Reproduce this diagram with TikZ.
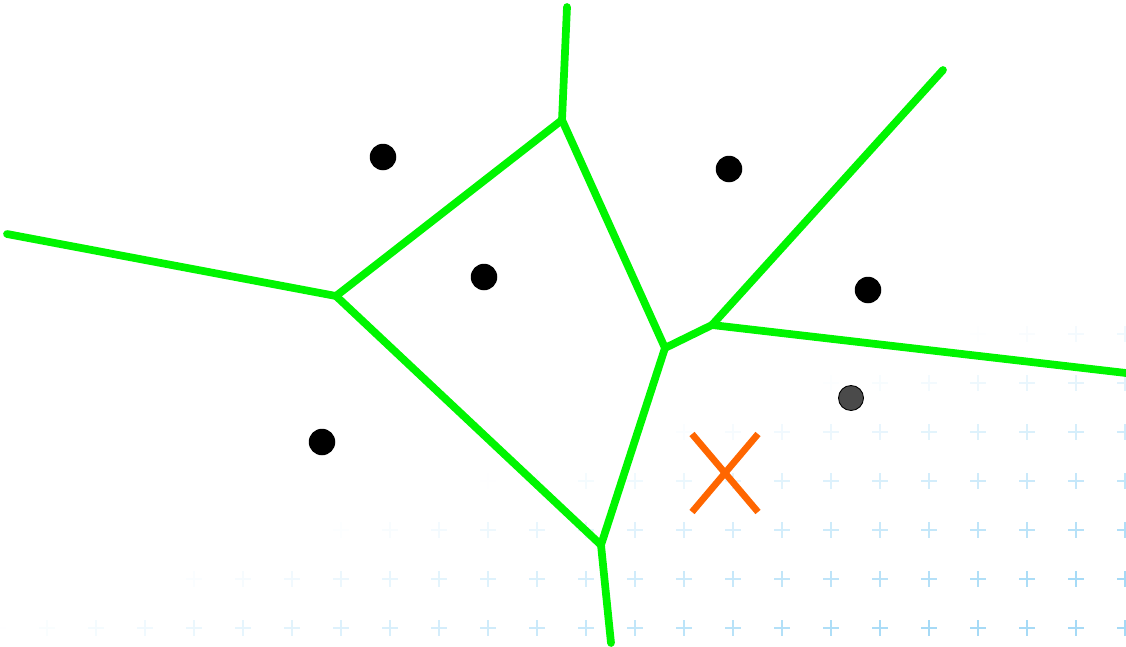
\documentclass[tikz,border=0pt]{standalone}
\usepackage{xcolor}
\usepackage{tikz}
\usetikzlibrary{positioning,calc}

\definecolor{cellgreen}{RGB}{0,245,0}
\definecolor{queryorange}{RGB}{255,102,0}
\definecolor{gridblue}{RGB}{150,212,245}
\definecolor{newsite}{RGB}{74,74,74}

\begin{document}
\begin{tikzpicture}[
    x=0.02cm, y=-0.02cm,
    site/.style={circle, fill=black, inner sep=0pt, minimum size=0.53cm},
    newpt/.style={circle, draw=black, fill=newsite, inner sep=0pt, minimum size=0.5cm, line width=0.5pt},
    edge/.style={draw=cellgreen, line width=4.4pt, line cap=round, line join=round},
    query/.style={draw=queryorange, line width=3.8pt},
    tick/.style={draw=gridblue, line width=1.4pt}
]
    \useasboundingbox (0,0) rectangle (1126,646);

    % Faded grid of crosses
    \foreach \j in {0,...,6} {
        \foreach \k in {0,...,23} {
            \pgfmathsetmacro{\cx}{49*\k-2}
            \pgfmathsetmacro{\cy}{334+49*\j}
            \pgfmathsetmacro{\op}{max(0,min(0.85,(\cx+3.32*\cy-2070)/1100))}
            \draw[tick, draw opacity=\op] (\cx-8,\cy) -- (\cx+8,\cy) (\cx,\cy-8) -- (\cx,\cy+8);
        }
    }

    % Voronoi vertices
    \coordinate (va) at (562,120);
    \coordinate (vb) at (336,296);
    \coordinate (vc) at (665,348);
    \coordinate (vd) at (601,545);
    \coordinate (ve) at (712,325);
    \coordinate (ttop) at (567,7);
    \coordinate (tleft) at (7,234);
    \coordinate (tbot) at (611,643);
    \coordinate (tne) at (943,70);
    \coordinate (teast) at (1126,373);

    % Edges
    \path[edge] (ttop) -- (va);
    \path[edge] (va) -- (vb);
    \path[edge] (vb) -- (tleft);
    \path[edge] (va) -- (vc);
    \path[edge] (vb) -- (vd);
    \path[edge] (vd) -- (tbot);
    \path[edge] (vc) -- (vd);
    \path[edge] (vc) -- (ve);
    \path[edge] (ve) -- (tne);
    \path[edge] (ve) -- (teast);

    % Sites
    \node[site] (s1) at (383,157) {};
    \node[site] (s2) at (484,277) {};
    \node[site] (s3) at (729,169) {};
    \node[site] (s4) at (868,290) {};
    \node[site] (s5) at (322,442) {};
    \node[newpt] (s6) at (851,398) {};

    % Query point
    \coordinate (q) at (725,473);
    \path[query] ($(q)+(-33,-39)$) -- ($(q)+(33,39)$);
    \path[query] ($(q)+(-33,39)$) -- ($(q)+(33,-39)$);
\end{tikzpicture}
\end{document}
